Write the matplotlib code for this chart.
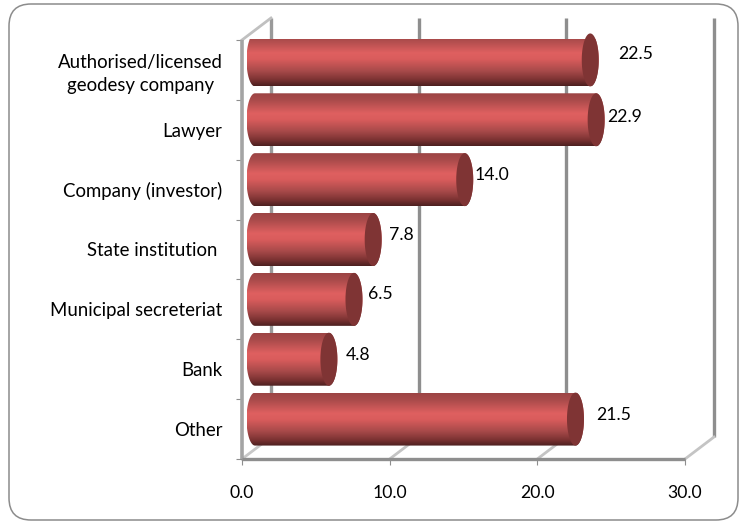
#!/usr/bin/env python3
# -*- coding: utf-8 -*-
import numpy as np
import matplotlib
matplotlib.use("Agg")
import matplotlib.pyplot as plt
from matplotlib.colors import LinearSegmentedColormap
from matplotlib.patches import FancyBboxPatch, Polygon

categories = ["Authorised/licensed\ngeodesy company", "Lawyer",
              "Company (investor)", "State institution ",
              "Municipal secreteriat", "Bank", "Other"]
values = [22.5, 22.9, 14.0, 7.8, 6.5, 4.8, 21.5]
value_labels = ["22.5", "22.9", "14.0", "7.8", "6.5", "4.8", "21.5"]
xticks = [0, 10, 20, 30]
xtick_labels = ["0.0", "10.0", "20.0", "30.0"]

# label offsets from bar end, in pixels
label_dx = [61, 44, 43, 44, 42, 45, 54]
label_dy = [16, 13, 15, 15, 15, 14, 14]

W, H = 748, 528
plt.rcParams["font.family"] = ["Lato", "DejaVu Sans"]
FS = 12.7
CAT_FS = 13.4

fig = plt.figure(figsize=(W / 100, H / 100), dpi=100)

# rounded frame around the whole chart
bg = fig.add_axes([0, 0, 1, 1])
bg.set_xlim(0, W)
bg.set_ylim(H, 0)
bg.axis("off")
bg.add_patch(FancyBboxPatch((9, 4), 729, 516,
                            boxstyle="round,pad=0,rounding_size=22",
                            fc="white", ec="#8c8c8c", lw=1.1))

# front plane of the 3d box: x 242..685 px, y 40..459 px
ax = fig.add_axes([242 / W, 1 - 459 / H, (685 - 242) / W, (459 - 40) / H])
ax.patch.set_alpha(0)
for s in ax.spines.values():
    s.set_visible(False)
ax.set_xlim(0, 30)
ax.set_ylim(6.5, -0.5)

px_x = 30 / (685 - 242)
px_y = 7 / (459 - 40)
wall_dx = 29 * px_x
wall_dy = -22 * px_y

# walls and gridlines
for t in xticks[1:]:
    ax.plot([t + wall_dx] * 2, [6.5 + wall_dy, -0.5 + wall_dy], color="#8e8e8e",
            lw=2.4, clip_on=False, zorder=1, solid_capstyle="butt")
    ax.plot([t, t + wall_dx], [6.5, 6.5 + wall_dy], color="#c4c4c4",
            lw=2.0, clip_on=False, zorder=1)
ax.plot([wall_dx, wall_dx], [6.5 + wall_dy, -0.5 + wall_dy], color="#9a9a9a",
        lw=2.4, clip_on=False, zorder=1, solid_capstyle="butt")
ax.plot([0, wall_dx], [6.5, 6.5 + wall_dy], color="#c8c8c8", lw=2.0,
        clip_on=False, zorder=1)
ax.plot([0, wall_dx], [-0.5, -0.5 + wall_dy], color="#c0c0c0", lw=2.0,
        clip_on=False, zorder=1)
ax.plot([0, 0], [-0.5, 6.5], color="#a4a4a4", lw=2.6, clip_on=False, zorder=2,
        solid_capstyle="butt")
ax.plot([0, 30], [6.5, 6.5], color="#8e8e8e", lw=2.4, clip_on=False, zorder=2,
        solid_capstyle="butt")

# cylinders
cyl = LinearSegmentedColormap.from_list(
    "cyl", [(0.0, "#9c4444"), (0.12, "#a84a4a"), (0.38, "#df6060"),
            (0.5, "#d95c5c"), (0.72, "#a84a4a"), (0.88, "#7d3333"),
            (1.0, "#4d1f1f")])
grad = np.linspace(0, 1, 128).reshape(-1, 1)
bar_h = 53 * px_y
bar_off_x = 13 * px_x
bar_end_x = 16 * px_x
bar_off_y = -10 * px_y
cap_w = 8.5 * px_x
t_left = np.linspace(np.pi / 2, 3 * np.pi / 2, 40)
t_right = np.linspace(3 * np.pi / 2, 5 * np.pi / 2, 40)
t_cap = np.linspace(0, 2 * np.pi, 80)

for i, v in enumerate(values):
    x0 = bar_off_x
    x1 = v + bar_end_x
    yc = i + bar_off_y
    img = ax.imshow(grad, cmap=cyl, aspect="auto", zorder=3,
                    extent=(x0 - cap_w, x1 + cap_w, yc + bar_h / 2, yc - bar_h / 2))
    outline = np.vstack([
        np.column_stack([x0 + cap_w * np.cos(t_left), yc - bar_h / 2 * np.sin(t_left)]),
        np.column_stack([x1 + cap_w * np.cos(t_right), yc - bar_h / 2 * np.sin(t_right)])])
    clip = Polygon(outline, closed=True, transform=ax.transData, fc="none", ec="none")
    ax.add_patch(clip)
    img.set_clip_path(clip)
    img.set_clip_box(None)
    cap = np.column_stack([x1 + cap_w * np.cos(t_cap), yc + bar_h / 2 * np.sin(t_cap)])
    ax.add_patch(Polygon(cap, closed=True, fc="#7f3434", ec="none", zorder=4, clip_on=False))
    ax.annotate(value_labels[i], (v, i), xytext=(label_dx[i] * 0.72, label_dy[i] * 0.72),
                textcoords="offset points", ha="center", va="center",
                fontsize=FS, color="black", zorder=5, annotation_clip=False)

ax.set_xlim(0, 30)
ax.set_ylim(6.5, -0.5)

# ticks on the category boundaries, labels at the category centres
ax.set_yticks(np.arange(-0.5, 7, 1))
ax.set_yticklabels([])
ax.set_yticks(np.arange(7), labels=categories, minor=True, multialignment="center")
for lab in ax.get_yticklabels(minor=True):
    lab.set_linespacing(1.4)
ax.tick_params(axis="y", which="major", length=4, width=0.8, color="#8e8e8e")
ax.tick_params(axis="y", which="minor", length=0, pad=14, labelsize=CAT_FS)
ax.set_xticks(xticks, labels=xtick_labels)
ax.tick_params(axis="x", length=4, width=0.8, color="#8e8e8e", pad=15, labelsize=FS)

fig.savefig("out.png", dpi=100)
